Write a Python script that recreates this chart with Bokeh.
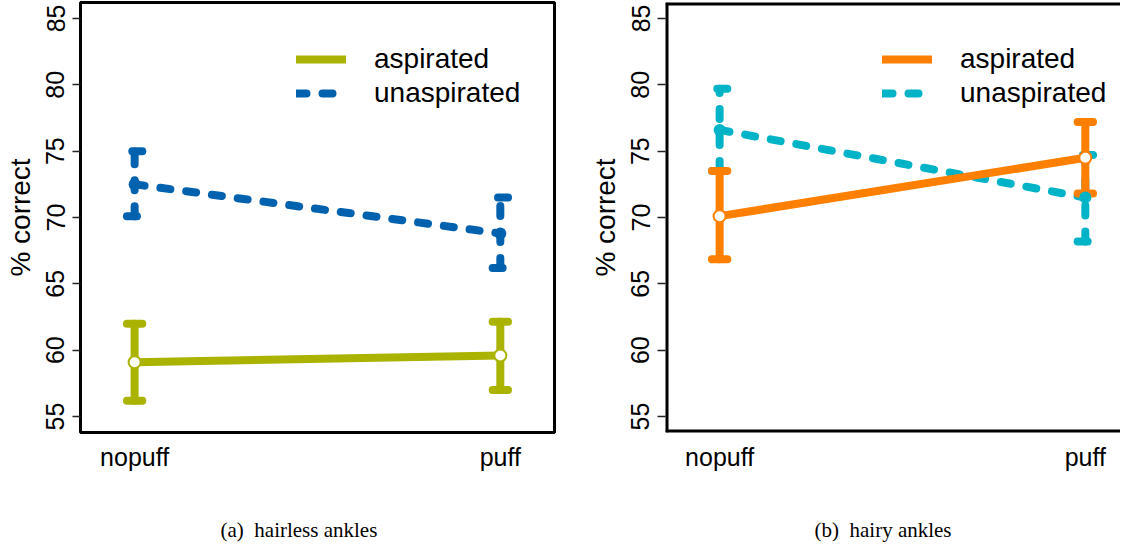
from bokeh.plotting import figure
from bokeh.models import FixedTicker, Legend, LegendItem, Title, Span
from bokeh.layouts import row
from bokeh.embed import file_html
from bokeh.resources import INLINE

# ---------------- data ----------------
conditions = ["nopuff", "puff"]
series_names = ["aspirated", "unaspirated"]
y_ticks = [55, 60, 65, 70, 75, 80, 85]

hairless_asp_mean = [59.1, 59.6]
hairless_asp_lower = [56.2, 57.0]
hairless_asp_upper = [62.0, 62.15]
hairless_unasp_mean = [72.5, 68.8]
hairless_unasp_lower = [70.1, 66.2]
hairless_unasp_upper = [75.0, 71.5]

hairy_asp_mean = [70.1, 74.5]
hairy_asp_lower = [66.85, 71.8]
hairy_asp_upper = [73.5, 77.2]
hairy_unasp_mean = [76.6, 71.5]
hairy_unasp_lower = [73.5, 68.2]
hairy_unasp_upper = [79.7, 74.7]

captions = ["(a)\u00a0 hairless ankles", "(b)\u00a0 hairy ankles"]
y_label = "% correct"

# ---------------- style ----------------
SANS = "Liberation Sans"
SERIF = "Liberation Serif"
LW = 8
DASH = "10 16"
CAP = 0.021
Y_RANGE = (53.8, 86.2)
PX_PER_UNIT = 365.7
X_START = 0.852

xs = [i + 1 for i in range(len(conditions))]


def make_panel(asp, unasp, colors, frame_width, mb_left, mb_right, caption,
               cap_offset, legend_x, outline=True):
    x_end = X_START + frame_width / PX_PER_UNIT
    p = figure(frame_width=frame_width, frame_height=430,
               min_border_left=mb_left, min_border_right=mb_right,
               min_border_top=2, min_border_bottom=106,
               x_range=(X_START, x_end), y_range=Y_RANGE,
               output_backend="svg", toolbar_location=None,
               background_fill_color="white", border_fill_color="white")
    p.grid.visible = False
    if outline:
        p.outline_line_color = "black"
        p.outline_line_width = 3
    else:
        p.outline_line_color = None
        for loc, dim in [(Y_RANGE[0], "width"), (Y_RANGE[1], "width"),
                         (X_START, "height")]:
            p.add_layout(Span(location=loc, dimension=dim,
                              line_color="black", line_width=6))

    ca, cu = colors
    a_mean, a_lo, a_hi = asp
    u_mean, u_lo, u_hi = unasp

    # unaspirated (dashed) error bars
    p.segment(x0=xs, y0=u_lo, x1=xs, y1=u_hi, line_color=cu, line_width=LW,
              line_cap="round", line_dash=DASH)
    p.segment(x0=[x + CAP for x in xs], y0=u_hi, x1=[x - CAP for x in xs],
              y1=u_hi, line_color=cu, line_width=LW, line_cap="round",
              line_dash=DASH)
    p.segment(x0=[x - CAP for x in xs], y0=u_lo, x1=[x + CAP for x in xs],
              y1=u_lo, line_color=cu, line_width=LW, line_cap="round",
              line_dash=DASH)
    u_line = p.line(xs, u_mean, line_color=cu, line_width=LW,
                    line_cap="round", line_dash=DASH)

    # aspirated (solid) error bars
    p.segment(x0=xs, y0=a_lo, x1=xs, y1=a_hi, line_color=ca, line_width=LW,
              line_cap="round")
    p.segment(x0=[x - CAP for x in xs], y0=a_hi, x1=[x + CAP for x in xs],
              y1=a_hi, line_color=ca, line_width=LW, line_cap="round")
    p.segment(x0=[x - CAP for x in xs], y0=a_lo, x1=[x + CAP for x in xs],
              y1=a_lo, line_color=ca, line_width=LW, line_cap="round")
    a_line = p.line(xs, a_mean, line_color=ca, line_width=LW,
                    line_cap="round", line_join="round")

    p.scatter(xs, u_mean, size=12, fill_color=cu, line_color=None)
    p.scatter(xs, a_mean, size=12, fill_color="white", line_color=ca,
              line_width=2)

    # axes
    yax = p.yaxis[0]
    yax.ticker = FixedTicker(ticks=y_ticks)
    yax.major_label_orientation = "vertical"
    yax.major_label_text_font = SANS
    yax.major_label_text_font_size = "25px"
    yax.major_label_text_color = "black"
    yax.major_label_standoff = 8
    yax.major_tick_out = 8
    yax.major_tick_in = 0
    yax.major_tick_line_color = "#222222"
    yax.major_tick_line_width = 1.5
    yax.minor_tick_line_color = None
    yax.axis_line_color = None
    yax.axis_label = y_label
    yax.axis_label_text_font = SANS
    yax.axis_label_text_font_size = "28px"
    yax.axis_label_text_font_style = "normal"
    yax.axis_label_text_color = "black"
    yax.axis_label_standoff = 8

    xax = p.xaxis[0]
    xax.ticker = FixedTicker(ticks=xs)
    xax.major_label_overrides = {x: c for x, c in zip(xs, conditions)}
    xax.major_label_text_font = SANS
    xax.major_label_text_font_size = "25px"
    xax.major_label_text_color = "black"
    xax.major_label_standoff = 10
    xax.major_tick_out = 0
    xax.major_tick_in = 0
    xax.minor_tick_line_color = None
    xax.axis_line_color = None

    legend = Legend(
        items=[LegendItem(label=series_names[0], renderers=[a_line]),
               LegendItem(label=series_names[1], renderers=[u_line])],
        location=(legend_x, 322), glyph_width=50, glyph_height=34,
        label_height=34, label_standoff=28, spacing=0, padding=0, margin=0,
        border_line_color=None, background_fill_alpha=0,
        label_text_font=SANS, label_text_font_size="28px",
        label_text_color="black")
    p.add_layout(legend)

    p.add_layout(Title(text=caption, align="left", offset=cap_offset,
                       text_font=SERIF, text_font_size="21px",
                       text_font_style="normal", text_color="black",
                       standoff=84), "below")
    return p


p1 = make_panel((hairless_asp_mean, hairless_asp_lower, hairless_asp_upper),
                (hairless_unasp_mean, hairless_unasp_lower, hairless_unasp_upper),
                ("#AAB400", "#0062AE"), 474, 80, 21, captions[0], 140, 216)
p2 = make_panel((hairy_asp_mean, hairy_asp_lower, hairy_asp_upper),
                (hairy_unasp_mean, hairy_unasp_lower, hairy_unasp_upper),
                ("#FF7F00", "#00B3C6"), 455, 90, 0, captions[1], 149, 217,
                outline=False)

layout = row(p1, p2)
open("out.html", "w").write(file_html(layout, INLINE))
